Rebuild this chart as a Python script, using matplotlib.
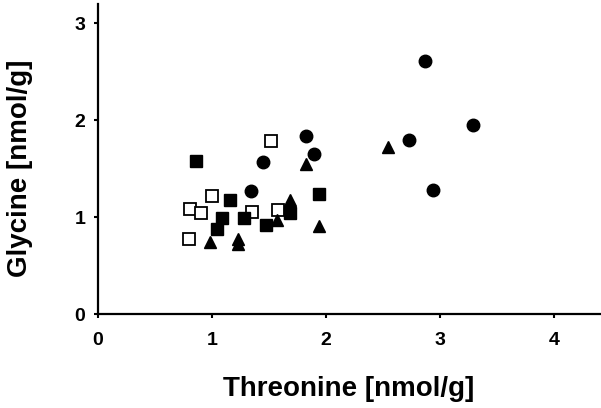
import matplotlib
matplotlib.use("Agg")
import matplotlib.pyplot as plt

plt.rcParams['font.family'] = ['Liberation Sans', 'DejaVu Sans']
plt.rcParams['font.weight'] = 'bold'

# threonine (x) / glycine (y) per group, nmol/g
open_sq_x = [1.52, 1.00, 0.81, 0.90, 1.35, 1.58, 0.80]
open_sq_y = [1.79, 1.22, 1.09, 1.04, 1.05, 1.08, 0.78]

filled_sq_x = [0.86, 1.16, 1.09, 1.04, 1.28, 1.47, 1.68, 1.94]
filled_sq_y = [1.58, 1.18, 0.99, 0.88, 0.99, 0.92, 1.04, 1.24]

tri_x = [1.82, 1.68, 1.57, 1.94, 0.98, 1.23, 1.23, 2.54]
tri_y = [1.55, 1.18, 0.97, 0.91, 0.74, 0.78, 0.72, 1.72]

circ_x = [1.82, 1.89, 1.45, 1.34, 2.87, 3.29, 2.73, 2.94]
circ_y = [1.84, 1.65, 1.57, 1.27, 2.61, 1.95, 1.80, 1.28]

xticks = [0, 1, 2, 3, 4]
yticks = [0, 1, 2, 3]

fig = plt.figure(figsize=(6.01, 4.08), dpi=100)
ax = fig.add_axes([0.163, 0.23, 0.835, 0.76])

ms = 8.5
ax.plot(open_sq_x, open_sq_y, 's', ms=ms, mfc='white', mec='black', mew=1.3, ls='none')
ax.plot(filled_sq_x, filled_sq_y, 's', ms=ms, color='black', ls='none')
ax.plot(tri_x, tri_y, '^', ms=ms + 0.5, color='black', ls='none')
ax.plot(circ_x, circ_y, 'o', ms=ms + 0.5, color='black', ls='none')

ax.set_xlim(0, 4.40)
ax.set_ylim(0, 3.2)
ax.set_xticks(xticks)
ax.set_yticks(yticks)

for s in ['top', 'right']:
    ax.spines[s].set_visible(False)
for s in ['left', 'bottom']:
    ax.spines[s].set_linewidth(1.6)

ax.tick_params(axis='both', direction='out', length=3, width=1.5, labelsize=14)
ax.tick_params(axis='x', pad=10)
ax.tick_params(axis='y', pad=6)
for lab in ax.get_xticklabels() + ax.get_yticklabels():
    lab.set_fontweight('bold')

ax.set_xlabel('Threonine [nmol/g]', fontsize=20, fontweight='bold')
ax.set_ylabel('Glycine [nmol/g]', fontsize=20, fontweight='bold')
ax.xaxis.set_label_coords(0.5, -0.20)
ax.yaxis.set_label_coords(-0.13, 0.47)

fig.savefig('out.png', dpi=100)
